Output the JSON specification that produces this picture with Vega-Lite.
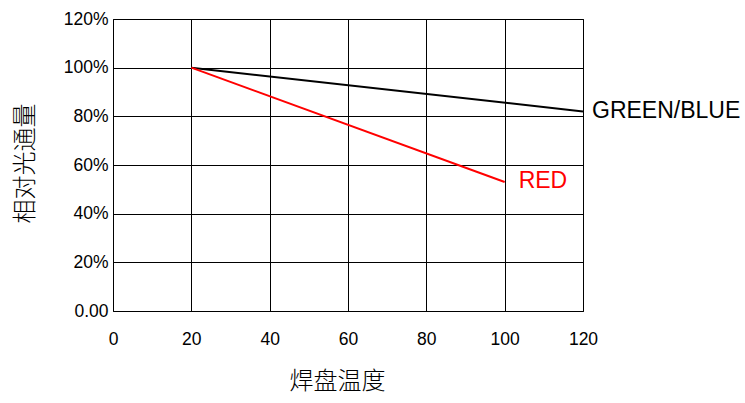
{
  "$schema": "https://vega.github.io/schema/vega-lite/v6.json",
  "autosize": "none",
  "width": 470,
  "height": 292,
  "padding": {"left": 113, "top": 19, "right": 162, "bottom": 92},
  "background": "white",
  "config": {
    "view": {"stroke": "#000", "strokeWidth": 1},
    "font": "Liberation Sans"
  },
  "datasets": {
    "lines": [
      {"temp": 20, "flux": 100, "series": "GREEN/BLUE"},
      {"temp": 120, "flux": 82, "series": "GREEN/BLUE"},
      {"temp": 20, "flux": 100, "series": "RED"},
      {"temp": 100, "flux": 53, "series": "RED"}
    ],
    "labels": [
      {"temp": 120, "flux": 82, "series": "GREEN/BLUE"},
      {"temp": 100, "flux": 53.5, "series": "RED"}
    ]
  },
  "layer": [
    {
      "data": {"name": "lines"},
      "mark": {"type": "line", "strokeWidth": 2},
      "encoding": {
        "x": {
          "field": "temp", "type": "quantitative",
          "scale": {"domain": [0, 120], "nice": false, "zero": false},
          "axis": {
            "values": [0, 20, 40, 60, 80, 100, 120],
            "grid": true, "gridColor": "#000", "gridOpacity": 1, "gridWidth": 1,
            "domain": false, "ticks": false, "labelFlush": false, "labelBound": false, "labelOverlap": false,
            "labelFontSize": 17.5, "labelColor": "#000", "labelPadding": 19,
            "labelFont": "Liberation Sans",
            "title": "焊盘温度", "titleFont": "Noto Sans CJK SC", "titleFontWeight": 300,
            "titleFontSize": 24, "titleColor": "#000",
            "titleX": 224, "titleY": 70, "titleBaseline": "middle", "titleAnchor": null
          }
        },
        "y": {
          "field": "flux", "type": "quantitative",
          "scale": {"domain": [0, 120], "nice": false},
          "axis": {
            "values": [0, 20, 40, 60, 80, 100, 120],
            "labelExpr": "datum.value == 0 ? '0.00' : datum.value + '%'",
            "grid": true, "gridColor": "#000", "gridOpacity": 1, "gridWidth": 1,
            "domain": false, "ticks": false, "labelFlush": false, "labelBound": false, "labelOverlap": false,
            "labelFontSize": 17.5, "labelColor": "#000", "labelPadding": 5,
            "labelFont": "Liberation Sans",
            "title": "相对光通量", "titleFont": "Noto Sans CJK SC", "titleFontWeight": 300,
            "titleFontSize": 24, "titleColor": "#000",
            "titleX": -88, "titleY": 144, "titleBaseline": "middle", "titleAnchor": null
          }
        },
        "color": {
          "field": "series", "type": "nominal",
          "scale": {"domain": ["GREEN/BLUE", "RED"], "range": ["#000000", "#ff0000"]},
          "legend": null
        }
      }
    },
    {
      "data": {"name": "labels"},
      "transform": [{"filter": "datum.series == 'GREEN/BLUE'"}],
      "mark": {"type": "text", "align": "left", "baseline": "middle", "fontSize": 23, "font": "Liberation Sans", "dx": 9},
      "encoding": {
        "x": {"field": "temp", "type": "quantitative"},
        "y": {"field": "flux", "type": "quantitative"},
        "text": {"field": "series"},
        "color": {
          "field": "series", "type": "nominal",
          "scale": {"domain": ["GREEN/BLUE", "RED"], "range": ["#000000", "#ff0000"]},
          "legend": null
        }
      }
    },
    {
      "data": {"name": "labels"},
      "transform": [{"filter": "datum.series == 'RED'"}],
      "mark": {"type": "text", "align": "left", "baseline": "middle", "fontSize": 23, "font": "Liberation Sans", "dx": 14},
      "encoding": {
        "x": {"field": "temp", "type": "quantitative"},
        "y": {"field": "flux", "type": "quantitative"},
        "text": {"field": "series"},
        "color": {
          "field": "series", "type": "nominal",
          "scale": {"domain": ["GREEN/BLUE", "RED"], "range": ["#000000", "#ff0000"]},
          "legend": null
        }
      }
    }
  ]
}
